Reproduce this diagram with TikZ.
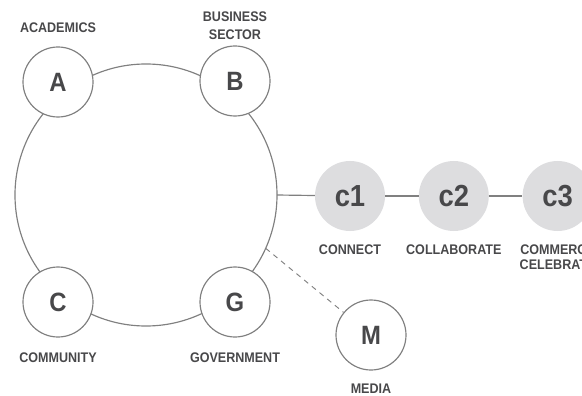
\documentclass[tikz,border=0pt]{standalone}
\usepackage{fontspec}
\newfontfamily\narrowsans[FakeStretch=0.9]{Liberation Sans}
\usetikzlibrary{positioning}

\definecolor{linegray}{RGB}{128,128,128}
\definecolor{textgray}{RGB}{72,72,74}
\definecolor{stagefill}{RGB}{221,221,223}

\tikzset{
  actor/.style={circle, draw=linegray, line width=1pt, fill=white, minimum size=2.1cm, inner sep=0pt,
    text=textgray, font=\narrowsans\bfseries\fontsize{22.6}{24}\selectfont},
  stage/.style={circle, fill=stagefill, minimum size=2.1cm, inner sep=0pt,
    text=textgray, font=\narrowsans\bfseries\fontsize{26}{28}\selectfont},
  tag/.style={inner sep=0pt, text=textgray, align=center,
    font=\narrowsans\bfseries\fontsize{11.9}{15.3}\selectfont},
  link/.style={draw=linegray, line width=1pt},
}

\begin{document}
\begin{tikzpicture}[x=0.03cm, y=-0.03cm]
  \useasboundingbox (0,0) rectangle (582,396);
  \clip (0,0) rectangle (582,396);

  % Ring
  \coordinate (ring) at (146,195);
  \draw[link] (ring) circle[radius=3.93cm];
  \coordinate (ringE) at ([shift={(0:3.93cm)}]ring);
  \coordinate (ringM) at ([shift={(-24:3.93cm)}]ring);

  % Nodes
  \node[actor] (A) at (58,82) {A};
  \node[actor] (B) at (235,81) {B};
  \node[actor] (C) at (58,302) {C};
  \node[actor] (G) at (235,302) {G};
  \node[actor] (M) at (371,335) {M};
  \node[stage] (c1) at (350,196) {c1};
  \node[stage, right=1cm of c1] (c2) {c2};
  \node[stage, right=1cm of c2] (c3) {c3};

  % Labels
  \node[tag, above=0.42cm of A] (academics) {ACADEMICS};
  \node[tag, above=0.18cm of B] (business) {BUSINESS\\SECTOR};
  \node[tag, below=0.45cm of C] (community) {COMMUNITY};
  \node[tag, below=0.45cm of G] (government) {GOVERNMENT};
  \node[tag, below=0.39cm of M] (media) {MEDIA};
  \node[tag, below=0.39cm of c1] (connect) {CONNECT};
  \node[tag, below=0.39cm of c2] (collaborate) {COLLABORATE};
  \node[tag, below=0.39cm of c3, font=\narrowsans\bfseries\fontsize{11.9}{13}\selectfont] (commerce) {COMMERCE\\CELEBRATE};

  % Links
  \draw[link] (ringE) -- (c1);
  \draw[link] (c1) -- (c2);
  \draw[link] (c2) -- (c3);
  \draw[link, line width=0.8pt, dash pattern=on 4.5pt off 4pt] (ringM) -- (M);
\end{tikzpicture}
\end{document}
